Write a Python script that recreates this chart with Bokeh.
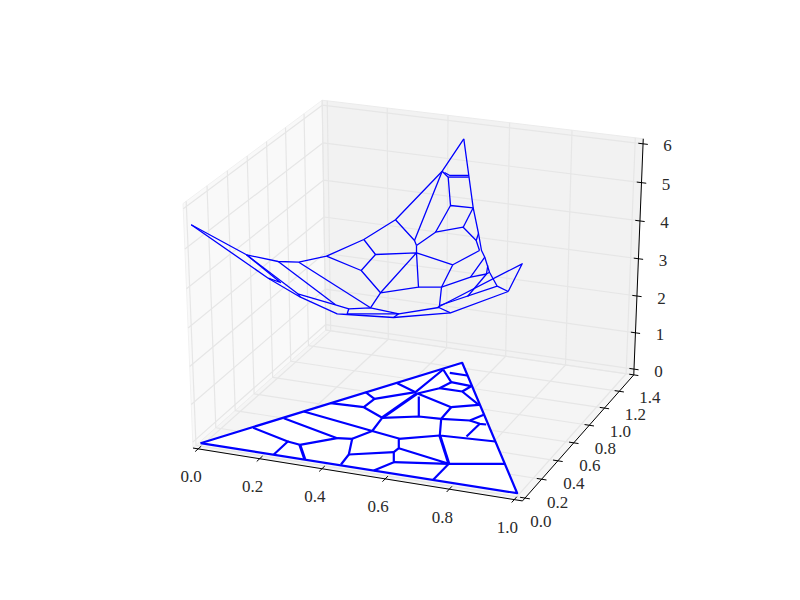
import numpy as np
from bokeh.plotting import figure
from bokeh.core.properties import value
from bokeh.embed import file_html
from bokeh.resources import INLINE

# ---- axis values ----
x_ticks = [0.0, 0.2, 0.4, 0.6, 0.8, 1.0]
y_ticks = [0.0, 0.2, 0.4, 0.6, 0.8, 1.0, 1.2, 1.4]
z_ticks = [0, 1, 2, 3, 4, 5, 6]
x_labels = ["0.0", "0.2", "0.4", "0.6", "0.8", "1.0"]
y_labels = ["0.0", "0.2", "0.4", "0.6", "0.8", "1.0", "1.2", "1.4"]
z_labels = ["0", "1", "2", "3", "4", "5", "6"]
xlim = (-0.017, 1.025)
ylim = (-0.03, 1.40)
zlim = (-0.16, 6.13)

# ---- box corners, calibrate the projected view ----
cube_corners = [(0,0,0),(1,0,0),(1,1,0),(0,1,0),(0,0,1),(0,1,1),(1,1,1)]
corner_screen = [(192,448),(522,500),(633,375),(326,329),(183,203),(321,100),(643,138)]

# ---- surface mesh, as projected on screen ----
top_mesh = [
 [(190.7,224.3),(246,254.3),(277.7,261),(298.3,261.7),(326,255.7),(363.3,239),(395,219.3),(441.7,170.7),(463.3,138.3)],
 [(463.3,138.3),(468.3,175),(472.7,207.3),(478,233),(481,250),(484.3,256.7),(489,271.7),(496.7,285.7),(507.7,291)],
 [(507.7,291),(450,312.3),(393,317),(346.7,314),(336.7,313.3),(300,296.7),(267.7,277.7),(190.7,224.3)],
 [(246,254.3),(280,282),(267.7,277.7)],
 [(246,254.3),(297.3,293.3),(335,304.3),(348.3,308.3),(370,307.3),(398.3,313.3),(438.3,307),(450,312.3)],
 [(297.3,293.3),(300,296.7)],
 [(277.7,261),(335,304.3)],
 [(298.3,261.7),(370,307.3)],
 [(326,255.7),(360.7,270),(380,292.3),(370,307.3)],
 [(363.3,239),(375,254),(360.7,270)],
 [(375,254),(416,252.3),(380,292.3)],
 [(395,219.3),(414,240),(416,245)],
 [(441.7,170.7),(414,240)],
 [(416,245),(416,252.3),(418,286.7),(380,292.3)],
 [(418,286.7),(441,286.7),(452.3,264.3),(416,252.3)],
 [(452.3,264.3),(479,250)],
 [(416,245),(435,231.7),(462.7,226.7),(475.7,240),(479,250)],
 [(435,231.7),(450,205),(472.7,207.3)],
 [(462.7,226.7),(472.7,207.3)],
 [(441.7,170.7),(447.7,176.7),(450,205)],
 [(444,172),(449.3,175),(468.3,175)],
 [(447.7,176.7),(468.3,176.7)],
 [(441,286.7),(439,305),(438.3,307)],
 [(441,286.7),(470,276.7),(484.3,256.7)],
 [(470,276.7),(486,273.5),(489,271.7)],
 [(486,273.5),(487.3,265)],
 [(486,273.5),(467,296)],
 [(439,305),(496.7,285.7)],
 [(437,307),(521.7,263.3),(507.7,291)],
 [(348.3,308.3),(346.7,313.3),(398.3,313.3),(393,317)],
 [(475.7,240),(478,233)],
]

# ---- the same mesh, on the floor ----
floor_outline = [(200,442.7),(516.7,492.7),(461.7,362.3)]
floor_mesh = [
 [(200,442.7),(516.7,492.7),(461.7,362.3),(200,442.7)],
 [(252.7,427.3),(287.3,441),(273.3,454)],
 [(287.3,441),(299.3,444.3)],
 [(283.3,417.7),(336.7,437.7),(299.3,444.3)],
 [(336.7,437.7),(351.7,438.3),(348.3,454),(340.5,464)],
 [(303.3,411),(371.7,430.5),(351.7,438.3)],
 [(330,402.7),(363.3,406.7),(381.7,417.3),(371.7,430.5)],
 [(363.3,406.7),(374,398.3),(365,391.7)],
 [(374,398.3),(415,391.7)],
 [(396.7,382.7),(415,391.7),(442.7,369)],
 [(371.7,430.5),(398.3,438),(398.3,447.7),(393.3,451.7),(393.3,461.7),(373.3,470)],
 [(348.3,454),(393.3,451.7)],
 [(381.7,417.3),(418.3,416),(440.7,418.3),(450.7,406.7),(417,393),(439,387.7),(450.7,381.7),(442.7,369)],
 [(418.3,416),(418.3,396)],
 [(450.7,406.7),(478.3,404.3),(461.7,391),(439,387.7)],
 [(461.7,391),(470.7,385.7),(450.7,381.7)],
 [(449.3,372.3),(466.7,375)],
 [(440.7,418.3),(469.3,420),(483.3,414.3)],
 [(469.3,420),(479.3,423.3),(485.7,424)],
 [(479.3,423.3),(466,436)],
 [(440.7,418.3),(439.3,435),(495,441)],
 [(439.3,435),(398.3,438.3)],
 [(448.3,463.3),(504,463.3)],
 [(398.3,447.7),(448.3,463.3),(393.3,461.7)],
 [(448.3,463.3),(432.7,479.3)],
]
floor_mesh_heavy = [
 [(299.3,444.3),(304.3,458.7)],
 [(439.3,435),(448.3,463.3)],
 [(381.7,417.3),(416.5,393)],
]

# ---- view: a camera solved from the box corners ----
def solve_camera(world, screen):
    rows = []
    for (a, b, c), (u, v) in zip(world, screen):
        rows.append([a, b, c, 1, 0, 0, 0, 0, -u*a, -u*b, -u*c, -u])
        rows.append([0, 0, 0, 0, a, b, c, 1, -v*a, -v*b, -v*c, -v])
    return np.linalg.svd(np.array(rows, float))[2][-1].reshape(3, 4)

CAM = solve_camera(cube_corners, corner_screen)

def project(x, y, z):
    q = np.array([(x-xlim[0])/(xlim[1]-xlim[0]), (y-ylim[0])/(ylim[1]-ylim[0]),
                  (z-zlim[0])/(zlim[1]-zlim[0]), 1.0])
    r = CAM @ q
    return r[0]/r[2], r[1]/r[2]

def polyline(points):
    s = [project(*p) for p in points]
    return [a for a, _ in s], [b for _, b in s]

x0, x1 = xlim; y0, y1 = ylim; z0, z1 = zlim

p = figure(width=784, height=584, x_range=(0, 784), y_range=(584, 0),
           output_backend="svg", toolbar_location=None,
           min_border=0, outline_line_color=None, background_fill_color="white")
p.axis.visible = False
p.grid.visible = False

# panes
panes = [
 ([(x0,y0,z0),(x0,y1,z0),(x0,y1,z1),(x0,y0,z1)], "#f9f9f9", "#f1f1f1"),
 ([(x0,y1,z0),(x1,y1,z0),(x1,y1,z1),(x0,y1,z1)], "#f2f2f2", "#ebebeb"),
 ([(x0,y0,z0),(x1,y0,z0),(x1,y1,z0),(x0,y1,z0)], "#f5f5f5", "#ededed"),
]
for pts, fill, edge in panes:
    xs, ys = polyline(pts)
    p.patch(xs, ys, fill_color=fill, line_color=edge, line_width=1)

# grid
gx, gy = [], []
for t in x_ticks:
    a, b = polyline([(t,y0,z0),(t,y1,z0),(t,y1,z1)]); gx.append(a); gy.append(b)
for t in y_ticks:
    a, b = polyline([(x1,t,z0),(x0,t,z0),(x0,t,z1)]); gx.append(a); gy.append(b)
for t in z_ticks:
    a, b = polyline([(x0,y0,t),(x0,y1,t),(x1,y1,t)]); gx.append(a); gy.append(b)
p.multi_line(gx, gy, line_color="#e6e6e6", line_width=1.2)

# axis lines and ticks
ax_x, ax_y = [], []
for pts in ([(x0,y0,z0),(x1,y0,z0)], [(x1,y0,z0),(x1,y1,z0)], [(x1,y1,z0),(x1,y1,z1)]):
    a, b = polyline(pts); ax_x.append(a); ax_y.append(b)
for t in x_ticks:
    a, b = polyline([(t,y0-0.03,z0),(t,y0+0.03,z0)]); ax_x.append(a); ax_y.append(b)
for t in y_ticks:
    a, b = polyline([(x1-0.015,t,z0),(x1+0.015,t,z0)]); ax_x.append(a); ax_y.append(b)
for t in z_ticks:
    a, b = polyline([(x1-0.015,y1,t),(x1+0.015,y1,t)]); ax_x.append(a); ax_y.append(b)
p.multi_line(ax_x, ax_y, line_color="black", line_width=1)

# tick labels
def labels(points, texts, dx, dy):
    s = [project(*q) for q in points]
    p.text([a+dx for a, _ in s], [b+dy for _, b in s], text=texts,
           text_font=value("Liberation Serif"), text_font_size="17px", text_color="#2a2a2a",
           text_align="center", text_baseline="middle")
labels([(t,y0,z0) for t in x_ticks], x_labels, -7, 28)
labels([(x1,t,z0) for t in y_ticks], y_labels, 16, 23)
labels([(x1,y1,t) for t in z_ticks], z_labels, 24.5, 2)

# floor mesh
p.patch([a for a, _ in floor_outline], [b for _, b in floor_outline], fill_color="white", line_color=None)
p.multi_line([[a for a, _ in c] for c in floor_mesh], [[b for _, b in c] for c in floor_mesh],
             line_color="#0000ff", line_width=2.2, line_join="round")
p.multi_line([[a for a, _ in c] for c in floor_mesh_heavy], [[b for _, b in c] for c in floor_mesh_heavy],
             line_color="#0000ff", line_width=3)

# surface mesh
p.multi_line([[a for a, _ in c] for c in top_mesh], [[b for _, b in c] for c in top_mesh],
             line_color="#0000ff", line_width=1.3, line_join="round")

open("out.html", "w").write(file_html(p, INLINE))
